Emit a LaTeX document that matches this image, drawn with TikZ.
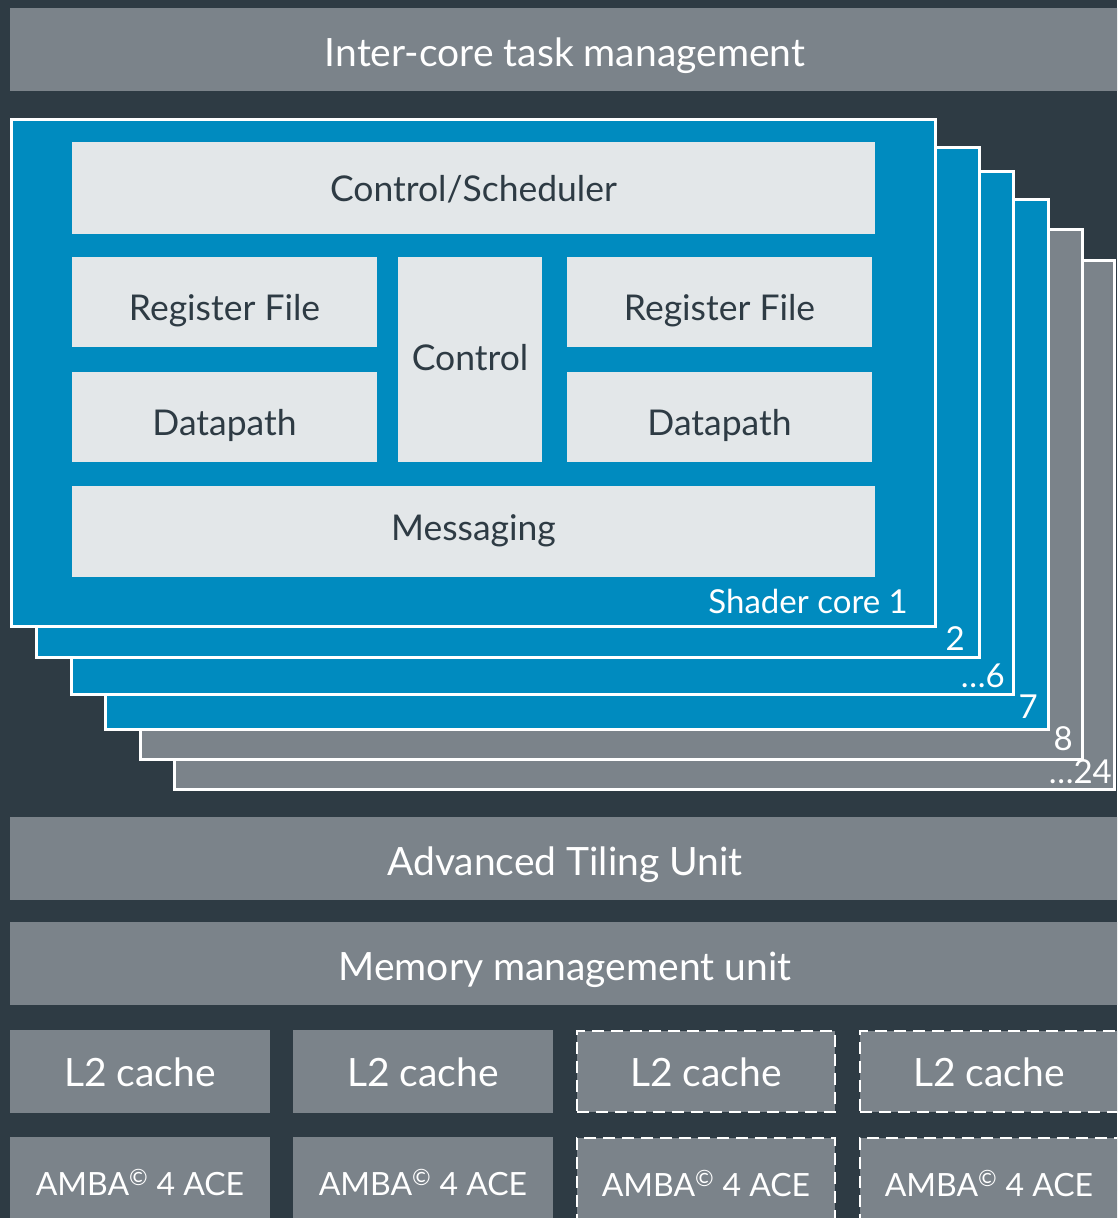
\documentclass[tikz,border=0pt]{standalone}
\usepackage{fontspec}
\setmainfont{Lato}
\definecolor{bgdark}{HTML}{2E3B44}
\definecolor{unitgray}{HTML}{7B838A}
\definecolor{coreblue}{HTML}{008BBF}
\definecolor{boxlight}{HTML}{E3E7E9}
\definecolor{textdark}{HTML}{2E3B44}
\tikzset{
  blk/.style={inner sep=0pt, outer sep=0pt, anchor=north west, text depth=0pt},
  bl/.style={text height=#1},
  unit/.style={blk, bl=33pt, fill=unitgray, text=white, font=\fontsize{39}{39}\selectfont},
  optunit/.style={unit, draw=white, line width=2.5pt, dash pattern=on 12pt off 7pt},
  amba/.style={unit, bl=24pt, font=\fontsize{32}{32}\selectfont},
  optamba/.style={optunit, bl=24pt, font=\fontsize{32}{32}\selectfont},
  core/.style={blk, fill=coreblue, draw=white, line width=3pt},
  spare/.style={core, fill=unitgray},
  part/.style={blk, fill=boxlight, text=textdark, font=\fontsize{35.5}{35.5}\selectfont},
  corelabel/.style={inner sep=0pt, anchor=base east, text=white, font=\fontsize{33}{33}\selectfont}
}
\begin{document}
\begin{tikzpicture}[x=1pt,y=-1pt]
\useasboundingbox (0,0) rectangle (1117,1218);
\clip (0,0) rectangle (1117,1218);
\fill[bgdark] (0,0) rectangle (1117,1218);

\node[unit, minimum width=1110pt, minimum height=83pt] (tasks) at (10,8) {Inter-core task management};

% stacked shader cores, back to front
\node[spare, minimum width=940pt, minimum height=529pt] (core24) at (174.5,260.5) {};
\node[spare, minimum width=942pt, minimum height=530pt] (core8) at (140.5,229.5) {};
\node[core, minimum width=943pt, minimum height=530pt] (core7) at (105.5,199.5) {};
\node[core, minimum width=942pt, minimum height=523pt] (core6) at (71.5,171.5) {};
\node[core, minimum width=943pt, minimum height=510pt] (core2) at (36.5,147.5) {};
\node[core, minimum width=924pt, minimum height=507pt] (core1) at (11.5,119.5) {};

\node[corelabel] (lab24) at (1112,783) {…24};
\node[corelabel] (lab8) at (1073,750) {8};
\node[corelabel] (lab7) at (1038,718) {7};
\node[corelabel] (lab6) at (1005,687) {…6};
\node[corelabel] (lab2) at (965,650) {2};
\node[corelabel] (lab1) at (908,613) {Shader core 1};

% inside shader core 1
\node[part, bl=27pt, minimum width=803pt, minimum height=92pt] (sched) at (72,142) {Control/Scheduler};
\node[part, bl=36pt, minimum width=305pt, minimum height=90pt] (rfl) at (72,257) {Register File};
\node[part, bl=36pt, minimum width=305pt, minimum height=90pt] (dpl) at (72,372) {Datapath};
\node[part, bl=21pt, minimum width=144pt, minimum height=205pt] (ctrl) at (398,257) {Control};
\node[part, bl=36pt, minimum width=305pt, minimum height=90pt] (rfr) at (567,257) {Register File};
\node[part, bl=36pt, minimum width=305pt, minimum height=90pt] (dpr) at (567,372) {Datapath};
\node[part, bl=17pt, minimum width=803pt, minimum height=91pt] (msg) at (72,486) {Messaging};

% shared units
\node[unit, minimum width=1110pt, minimum height=83pt] (atu) at (10,817) {Advanced Tiling Unit};
\node[unit, minimum width=1110pt, minimum height=83pt] (mmu) at (10,922) {Memory management unit};

\node[unit, bl=29pt, minimum width=260pt, minimum height=83pt] (l2a) at (10,1030) {L2 cache};
\node[unit, bl=29pt, minimum width=260pt, minimum height=83pt] (l2b) at (293,1030) {L2 cache};
\node[optunit, bl=29pt, minimum width=258pt, minimum height=81pt] (l2c) at (577,1031) {L2 cache};
\node[optunit, bl=29pt, minimum width=258pt, minimum height=81pt] (l2d) at (860,1031) {L2 cache};

\node[amba, minimum width=260pt, minimum height=92pt] (acea) at (10,1137) {AMBA\textsuperscript{©} 4 ACE};
\node[amba, minimum width=260pt, minimum height=92pt] (aceb) at (293,1137) {AMBA\textsuperscript{©} 4 ACE};
\node[optamba, minimum width=258pt, minimum height=92pt] (acec) at (577,1138) {AMBA\textsuperscript{©} 4 ACE};
\node[optamba, minimum width=258pt, minimum height=92pt] (aced) at (860,1138) {AMBA\textsuperscript{©} 4 ACE};
\end{tikzpicture}
\end{document}
